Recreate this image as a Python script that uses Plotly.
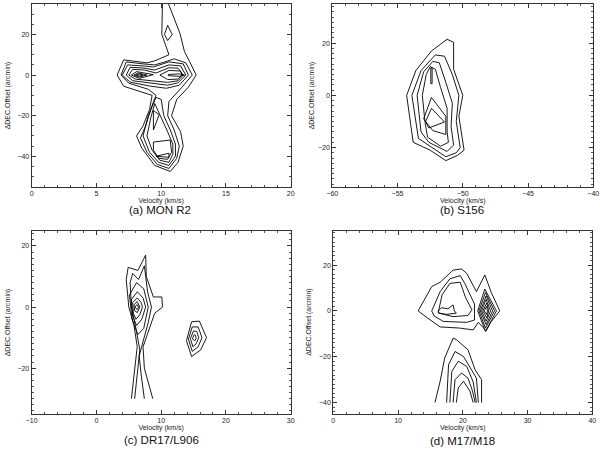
import plotly.graph_objects as go
from plotly.subplots import make_subplots

# ---------------- data: contour polylines (velocity km/s, dec offset arcmin) ----------------
# (a) MON R2
monr2_contours = [
    [(10.1, 37), (10.05, 20), (10.6, 10), (9.5, 7), (8.9, 6), (7.1, 7.5), (6.6, 0), (7.1, -5.5),
     (9.3, -10), (9.1, -17), (8.6, -25), (8.1, -30), (8.5, -36), (9.5, -44.5), (10.7, -47.5),
     (11.3, -43), (11.7, -35), (11.5, -28), (10.8, -20), (11.2, -12), (12.1, -6), (12.7, 0),
     (12.2, 6.6), (11.8, 11.5), (11.45, 20.5), (10.45, 37)],
    [(7.3, 6.5), (6.9, 0), (7.5, -4), (9.0, -7), (9.6, -10), (9.3, -15), (8.8, -25), (8.4, -31),
     (8.9, -38), (9.7, -44), (10.6, -46), (11.2, -41), (11.4, -35), (11.0, -27), (10.5, -20),
     (10.6, -13), (11.6, -6), (12.4, 0), (11.9, 6), (11.0, 8), (10.3, 6.5), (9.5, 5), (8.6, 5.5),
     (7.3, 6.5)],
    [(7.4, 5.0), (7.0, 0), (7.6, -3.5), (9.2, -5.5), (10.4, -6.5), (11.4, -5), (12.1, 0), (11.7, 5.5),
     (10.6, 6.5), (9.4, 4.0), (8.6, 4.5), (7.4, 5.0)],
    [(7.6, 3.8), (7.3, 0), (7.8, -2.8), (9.3, -4.2), (10.5, -5), (11.3, -3.8), (11.9, 0), (11.5, 4.5),
     (10.6, 5.0), (9.5, 2.5), (8.6, 3.5), (7.6, 3.8)],
    [(7.8, 2.8), (7.5, 0), (8.0, -2.0), (9.4, -2.8), (10.5, -3.6), (11.3, -2.8), (11.7, 0),
     (11.3, 3.4), (10.6, 3.6), (9.6, 1.0), (8.7, 2.5), (7.8, 2.8)],
    [(7.7, 0), (8.1, 1.7), (9.4, 0.2), (8.3, -1.6), (7.7, 0)],
    [(7.9, 0), (8.2, 1.0), (8.9, 0), (8.3, -1.0), (7.9, 0)],
    [(8.05, 0), (8.3, 0.5), (8.6, 0), (8.3, -0.5), (8.05, 0)],
    [(9.9, 0), (10.6, 2.3), (11.5, 2.0), (11.6, 0), (11.3, -2.0), (10.5, -2.2), (9.9, 0)],
    [(10.55, 0.3), (11.4, 0.6), (11.8, 0), (11.4, -0.6), (10.55, -0.3), (10.55, 0.3)],
    [(10.5, 24.5), (10.85, 20), (10.5, 17), (10.25, 20), (10.5, 24.5)],
    [(9.6, -11), (9.0, -20), (8.6, -30), (9.1, -38), (9.8, -43), (10.6, -44.5), (11.1, -40),
     (11.1, -34), (10.7, -27), (10.2, -20), (10.0, -12), (9.6, -11)],
    [(9.5, -14), (9.2, -21), (8.9, -30), (9.3, -37), (9.9, -42), (10.6, -43), (10.9, -39),
     (10.9, -34), (10.5, -28), (10.0, -21), (9.5, -14)],
    [(9.4, -33), (10.7, -32), (10.8, -38), (10.5, -41.5), (9.8, -41), (9.4, -37), (9.4, -33)],
    [(9.6, -40), (10.6, -38.5), (10.6, -40.5), (9.6, -40)],
    [(9.4, -17.5), (9.85, -19.5), (9.4, -27), (9.4, -17.5)],
]

# (b) S156
s156_contours = [
    [(-51.2, 21.5), (-50.7, 20.3), (-50.7, 10), (-50.0, 0), (-50.3, -8), (-49.9, -21), (-50.4, -23),
     (-51.3, -25), (-52.5, -21), (-53.8, -18), (-54.3, 0), (-53.6, 9.5), (-52.4, 17), (-51.2, 21.5)],
    [(-52.1, 15.5), (-51.4, 15), (-50.8, 8), (-50.3, 0), (-50.5, -10), (-50.2, -20), (-50.5, -22),
     (-51.3, -23.5), (-52.5, -19.5), (-53.4, -16.5), (-53.9, 0), (-53.2, 9.5), (-52.1, 15.5)],
    [(-52.3, 13), (-51.8, 12.5), (-51.3, 5), (-50.8, -3), (-50.9, -12), (-50.7, -19), (-51.2, -21.5),
     (-52.6, -18), (-53.2, -14), (-53.5, 0), (-53.0, 9), (-52.3, 13)],
    [(-52.5, 11), (-52.1, 10), (-51.7, 3), (-51.2, -5), (-51.2, -14), (-51.1, -18), (-51.7, -19.5),
     (-52.7, -16), (-52.9, -10), (-53.1, 0), (-52.8, 8), (-52.5, 11)],
    [(-52.45, 10.5), (-52.35, 10.5), (-52.35, 4.5), (-52.45, 4.5), (-52.45, 10.5)],
    [(-52.4, -0.8), (-51.3, -8), (-51.3, -15), (-52.3, -13.5), (-53.0, -9), (-52.4, -0.8)],
    [(-52.4, -5), (-51.4, -10.2), (-52.6, -12.5), (-52.85, -10), (-52.4, -5)],
]

# (c) DR17/L906
dr17_contours = [
    [(5.4, -30), (5.8, -22), (6.3, -13), (5.8, -6), (5.0, 0), (4.6, 9), (4.9, 13), (6.4, 12),
     (7.6, 17), (7.7, 10), (8.8, 3.3), (10.1, 3.3), (10.2, 0), (9.0, -2), (8.0, -8), (7.2, -13),
     (7.4, -20), (8.2, -26), (8.7, -30)],
    [(5.9, -30), (6.3, -22), (6.7, -14), (6.1, -7), (5.4, 0), (5.2, 8), (5.6, 11), (6.5, 9),
     (7.4, 13.5), (7.9, 5), (8.5, 0), (8.0, -5), (7.2, -11), (6.6, -16), (6.9, -22), (7.4, -30)],
    [(5.1, 4), (6.2, 8), (7.3, 6), (8.0, 0), (7.3, -7), (6.4, -9), (5.5, -4), (5.1, 4)],
    [(5.4, 2.5), (6.3, 5), (7.2, 3), (7.6, 0), (7.0, -4), (6.2, -6), (5.6, -3), (5.4, 2.5)],
    [(5.6, 1.5), (6.3, 3), (6.9, 1.5), (7.1, 0), (6.7, -2.5), (6.1, -4), (5.7, -2), (5.6, 1.5)],
    [(5.8, 0.8), (6.3, 1.8), (6.7, 0), (6.3, -1.8), (5.9, -1.2), (5.8, 0.8)],
    [(6.0, 0.3), (6.3, 0.8), (6.5, 0), (6.3, -0.8), (6.0, -0.3), (6.0, 0.3)],
    [(14.7, -4.8), (15.9, -4.6), (17.0, -10), (16.1, -14), (14.7, -16.2), (13.9, -11), (14.7, -4.8)],
    [(14.8, -6.5), (15.7, -6.5), (16.3, -10), (15.7, -13), (14.8, -14.5), (14.2, -10.5), (14.8, -6.5)],
    [(15.0, -7.8), (15.5, -8), (15.8, -10), (15.4, -12), (14.9, -13), (14.5, -10.3), (15.0, -7.8)],
    [(15.1, -9), (15.3, -9.2), (15.4, -10.2), (15.2, -11), (14.8, -10.4), (15.1, -9)],
]

# (d) M17/M18
m17_contours = [
    [(13.1, 0), (14.5, 7), (15.2, 10.6), (16.5, 12.5), (18.5, 17.8), (19.8, 18.3), (20.6, 16.4),
     (22.1, 8.4), (23.4, 15.7), (24.4, 8), (25.7, 0), (24.3, -5), (23.6, -8.7), (22.4, -5),
     (21.6, -8.3), (19.5, -7.5), (16.5, -7), (14.5, -3), (13.1, 0)],
    [(15.2, 0), (16.5, 8.4), (18.0, 14), (19.6, 15.4), (20.3, 12), (21.8, 3), (21.8, -4), (20.6, -5),
     (17.0, -4.6), (15.6, -2.3), (15.2, 0)],
    [(16.2, -0.8), (16.8, 7), (18.0, 12), (19.6, 12.5), (20.4, 6), (21.4, 0.5), (20.8, -2),
     (18.5, -2.5), (17.0, -1.5), (16.2, -0.8)],
    [(16.2, 0), (16.7, 1.4), (17.7, 0.9), (18.5, 2.6), (18.7, 0), (19.0, -1.0), (17.5, -1.5),
     (16.3, -1.0), (16.2, 0)],
    [(22.3, 0), (23.4, 9.5), (25.2, 0), (23.5, -9), (22.3, 0)],
    [(22.5, 0), (23.5, 8), (24.9, 0), (23.5, -7.5), (22.5, 0)],
    [(22.7, 0), (23.6, 6.5), (24.6, 0), (23.6, -6), (22.7, 0)],
    [(22.9, 0), (23.6, 5), (24.3, 0), (23.6, -4.5), (22.9, 0)],
    [(23.1, 0), (23.7, 3.5), (24.0, 0), (23.7, -3), (23.1, 0)],
    [(23.3, 0), (23.7, 2), (23.8, 0), (23.7, -1.6), (23.3, 0)],
    [(15.7, -40), (16.5, -30.7), (17.2, -20.6), (18.5, -11.9), (19.0, -12.5), (20.8, -17),
     (21.9, -25.7), (22.9, -30), (22.9, -40)],
    [(17.5, -40), (17.8, -23.5), (18.8, -17.7), (20.1, -19.9), (22.1, -29.3), (22.4, -40)],
    [(18.0, -40), (18.3, -26.4), (19.3, -22), (20.6, -24.2), (21.6, -31), (22.1, -40)],
    [(18.5, -40), (18.8, -30), (19.8, -27.1), (20.8, -29.3), (21.5, -35), (21.9, -40)],
    [(19.0, -40), (19.3, -33.6), (20.1, -30.7), (21.1, -35), (21.6, -40)],
]

panel_captions = ["(a) MON R2", "(b) S156", "(c) DR17/L906", "(d) M17/M18"]
x_ranges = [[0, 20], [-60, -40], [-10, 30], [0, 40]]
y_ranges = [[-55, 35], [-35, 35], [-35, 25], [-45, 35]]
x_dticks = [5, 5, 10, 10]
x_minor = [1, 1, 2, 2]
y_minor = [5, 2, 2, 2]

# ---------------- figure ----------------
fig = make_subplots(rows=2, cols=2)

all_contours = [monr2_contours, s156_contours, dr17_contours, m17_contours]
cells = [(1, 1), (1, 2), (2, 1), (2, 2)]
for contours, (r, c) in zip(all_contours, cells):
    for line in contours:
        fig.add_trace(
            go.Scatter(x=[p[0] for p in line], y=[p[1] for p in line], mode="lines",
                       line=dict(color="black", width=0.9), showlegend=False, hoverinfo="skip"),
            row=r, col=c,
        )

W, H = 600, 451
x_domains = [[0.0528, 0.4845], [0.5538, 0.9888], [0.0528, 0.4845], [0.5555, 0.9872]]
y_domains = [[0.586, 0.9911], [0.586, 0.9911], [0.082, 0.4885], [0.082, 0.4885]]

font_family = "Liberation Sans, Arial, sans-serif"
tickfont = dict(family=font_family, size=7, color="#222")
for i, (r, c) in enumerate(cells):
    fig.update_xaxes(
        range=x_ranges[i], dtick=x_dticks[i], domain=x_domains[i], automargin=False,
        showgrid=False, zeroline=False, showline=True, linecolor="#333", linewidth=1,
        mirror="allticks", ticks="inside", ticklen=4, tickcolor="#333",
        minor=dict(dtick=x_minor[i], ticks="inside", ticklen=2, tickcolor="#555"),
        tickfont=tickfont,
        title=dict(text="Velocity (km/s)", font=tickfont, standoff=0),
        row=r, col=c,
    )
    fig.update_yaxes(
        range=y_ranges[i], dtick=20, domain=y_domains[i], automargin=False,
        showgrid=False, zeroline=False, showline=True, linecolor="#333", linewidth=1,
        mirror="allticks", ticks="inside", ticklen=4, tickcolor="#333",
        minor=dict(dtick=y_minor[i], ticks="inside", ticklen=2, tickcolor="#555"),
        tickfont=tickfont,
        row=r, col=c,
    )

# y titles placed by hand (pixel x of text centre)
ytitle_px = [8, 312, 8, 309.5]
for i, xpx in enumerate(ytitle_px):
    fig.add_annotation(text="ΔDEC.Offset (arcmin)", textangle=-90,
                       x=xpx / W, y=sum(y_domains[i]) / 2, xref="paper", yref="paper",
                       showarrow=False, xanchor="center", yanchor="middle", font=tickfont)

caption_pos = [(160, 210), (462, 210), (161.5, 440), (462.5, 441)]
for text, (cx, cy) in zip(panel_captions, caption_pos):
    fig.add_annotation(text=text, x=cx / W, y=1 - cy / H, xref="paper", yref="paper",
                       showarrow=False, xanchor="center", yanchor="middle",
                       font=dict(family=font_family, size=11.5, color="#111"))

fig.update_layout(
    width=W, height=H,
    margin=dict(l=0, r=0, t=0, b=0),
    paper_bgcolor="white", plot_bgcolor="white",
    hovermode=False,
)

# drop the page's default 8px body margin so the figure sits at the window corner
fig.write_html("out.html", config={"displayModeBar": False},
               post_script="document.body.style.margin='0';")
